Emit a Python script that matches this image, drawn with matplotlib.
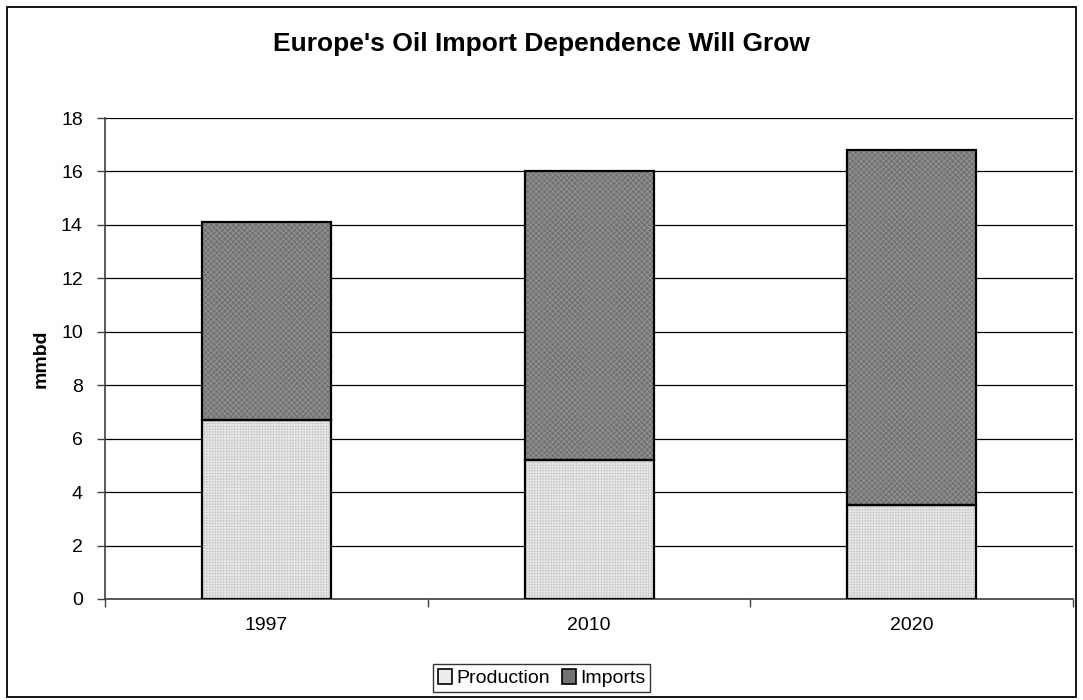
import matplotlib.pyplot as plt
import matplotlib.patches as mpatches
import numpy as np

plt.rcParams['font.family'] = ['Liberation Sans', 'DejaVu Sans']
plt.rcParams['hatch.linewidth'] = 0.6

years = ['1997', '2010', '2020']
production = [6.7, 5.2, 3.5]
imports = [7.4, 10.8, 13.3]

fig = plt.figure(figsize=(10.83, 7.0), dpi=100)
ax = fig.add_axes([0.097, 0.1443, 0.8938, 0.6871])

# outer chart border
fig.patches.append(mpatches.Rectangle((0.0068, 0.0043), 0.9866, 0.9857, transform=fig.transFigure,
                                      fill=False, edgecolor='black', linewidth=1.3))

x = np.arange(len(years))
# textured fill (hatch colour comes from edgecolor), then black outline on top
ax.bar(x, production, width=0.4, color='#ececec', edgecolor='#cfcfcf', linewidth=0,
       hatch='++++++', zorder=3)
ax.bar(x, imports, width=0.4, bottom=production, color='#737373', edgecolor='#939393',
       linewidth=0, hatch='xxxxxx', zorder=3)
ax.bar(x, production, width=0.4, fill=False, edgecolor='black', linewidth=1.6, zorder=4)
ax.bar(x, imports, width=0.4, bottom=production, fill=False, edgecolor='black',
       linewidth=1.6, zorder=4)

ax.set_xlim(-0.5, 2.5)
ax.set_ylim(0, 18)
ax.set_yticks(range(0, 19, 2))
ax.yaxis.grid(True, color='black', linewidth=0.9, zorder=0)
ax.set_axisbelow(True)

ax.set_xticks(x)
ax.set_xticklabels(years, fontsize=14)
ax.tick_params(axis='x', length=0, pad=13)
ax.set_xticks([-0.5, 0.5, 1.5, 2.5], minor=True)
ax.tick_params(axis='x', which='minor', length=6, width=1, color='#404040', direction='out')
ax.tick_params(axis='y', labelsize=14, length=6, width=1, color='#404040', direction='out', pad=10)

for s in ['top', 'right']:
    ax.spines[s].set_visible(False)
for s in ['left', 'bottom']:
    ax.spines[s].set_color('#404040')
    ax.spines[s].set_linewidth(1.2)

ax.set_ylabel('mmbd', fontsize=14, fontweight='bold', labelpad=8)
fig.text(0.5, 0.937, "Europe's Oil Import Dependence Will Grow", ha='center', va='center',
         fontsize=19, fontweight='bold')

h1 = mpatches.Patch(facecolor='#ececec', edgecolor='black', linewidth=1.2)
h2 = mpatches.Patch(facecolor='#737373', edgecolor='black', linewidth=1.2)
leg = fig.legend([h1, h2], ['Production', 'Imports'], loc='center', bbox_to_anchor=(0.5, 0.031),
                 ncol=2, fontsize=14, frameon=True, fancybox=False, edgecolor='black',
                 handlelength=0.75, handleheight=0.75, handletextpad=0.2, columnspacing=0.6,
                 borderpad=0.25, borderaxespad=0)
leg.get_frame().set_linewidth(1.0)

fig.savefig('out.png', dpi=100)
